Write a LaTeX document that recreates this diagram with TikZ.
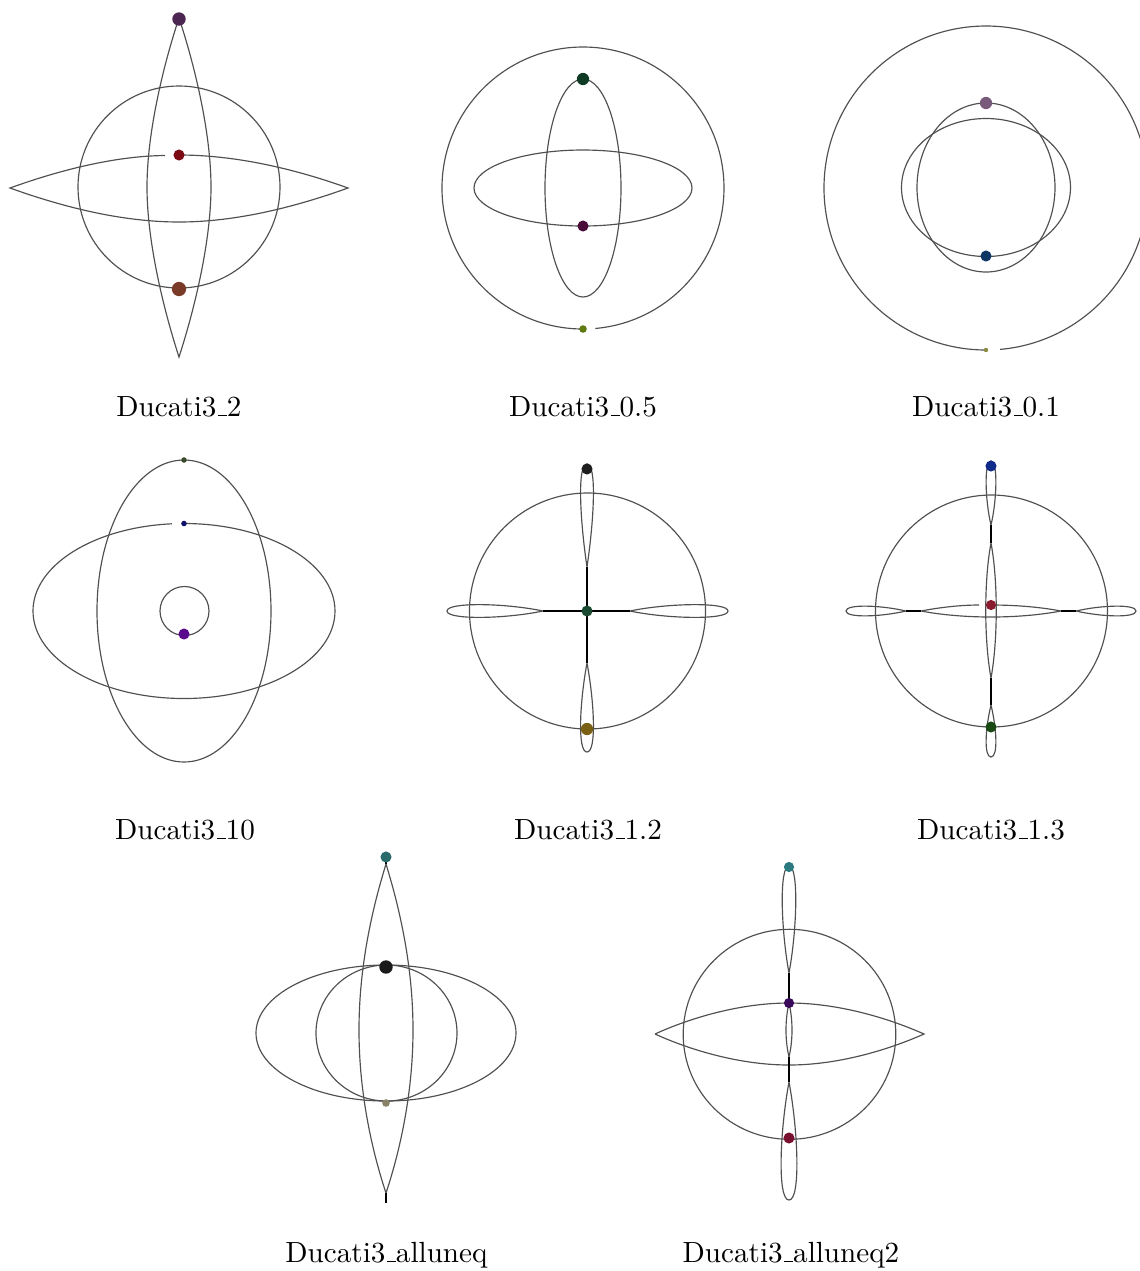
\documentclass[tikz,border=0pt]{standalone}
\usepackage{tikz}
\newcommand{\usc}{\leavevmode\kern.06em\vbox{\hrule width.3em}}
\definecolor{orbitgray}{HTML}{505050}
\definecolor{dotAa}{HTML}{4B2650}
\definecolor{dotAb}{HTML}{7B0A14}
\definecolor{dotAc}{HTML}{7A3A28}
\definecolor{dotBa}{HTML}{0F3A24}
\definecolor{dotBb}{HTML}{4A0D3A}
\definecolor{dotBc}{HTML}{5F7A12}
\definecolor{dotCa}{HTML}{7A5A7A}
\definecolor{dotCb}{HTML}{0C3566}
\definecolor{dotCc}{HTML}{8A8A40}
\definecolor{dotDa}{HTML}{3A4A2A}
\definecolor{dotDb}{HTML}{10106A}
\definecolor{dotDc}{HTML}{5A0A8A}
\definecolor{dotEa}{HTML}{1E1E1E}
\definecolor{dotEb}{HTML}{1A4A30}
\definecolor{dotEc}{HTML}{7A6012}
\definecolor{dotFa}{HTML}{102A8A}
\definecolor{dotFb}{HTML}{8A1A30}
\definecolor{dotFc}{HTML}{1A4A14}
\definecolor{dotGa}{HTML}{2A6A6A}
\definecolor{dotGb}{HTML}{1A1A1A}
\definecolor{dotGc}{HTML}{8A8266}
\definecolor{dotHa}{HTML}{2A7A80}
\definecolor{dotHb}{HTML}{3A0A5A}
\definecolor{dotHc}{HTML}{7A1030}

\begin{document}
\begin{tikzpicture}[
  x=0.343pt, y=-0.343pt,
  orbit/.style={draw=orbitgray, line width=0.4pt},
  neck/.style={draw=black, line width=0.5pt},
  dot/.style={circle, inner sep=0pt, minimum size=3.8pt},
  bigdot/.style={dot, minimum size=4.6pt},
  smalldot/.style={dot, minimum size=2.6pt},
  tinydot/.style={dot, minimum size=1.5pt},
  caption/.style={anchor=base, inner sep=0pt}
]
\useasboundingbox (0,0) rectangle (1140,1271);

% Ducati3_2
\draw[orbit] (179,187) circle [radius=101];
\draw[orbit] (179,18) .. controls (165,60) and (147,130) .. (147,187) .. controls (147,244) and (165,314) .. (179,357)
  .. controls (193,314) and (211,244) .. (211,187) .. controls (211,130) and (193,60) .. (179,18);
\draw[orbit] (179,155) .. controls (238,155) and (298,170) .. (348,188) .. controls (298,206) and (238,222) .. (179,222)
  .. controls (120,222) and (60,206) .. (10,188) .. controls (60,170) and (115,156) .. (165,155.5);
\node[bigdot, fill=dotAa] (a1) at (179,19) {};
\node[dot, fill=dotAb] (a2) at (179,155) {};
\node[bigdot, minimum size=4.9pt, fill=dotAc] (a3) at (179,289) {};
\node[caption] (capA) at (179,416) {Ducati3\usc 2};

% Ducati3_0.5
\draw[orbit] (583,329) arc [start angle=90, end angle=445, radius=141];
\draw[orbit] (583,188) ellipse [x radius=38, y radius=109];
\draw[orbit] (583,188) ellipse [x radius=109, y radius=38];
\node[dot, minimum size=4.2pt, fill=dotBa] (b1) at (583,79) {};
\node[dot, fill=dotBb] (b2) at (583,226) {};
\node[smalldot, fill=dotBc] (b3) at (583,329) {};
\node[caption] (capB) at (583,416) {Ducati3\usc 0.5};

% Ducati3_0.1
\draw[orbit] (986,350) arc [start angle=90, end angle=445, radius=162];
\draw[orbit] (986,187.5) ellipse [x radius=69, y radius=84.5];
\draw[orbit] (986,187.5) ellipse [x radius=84.5, y radius=69];
\node[dot, minimum size=4.2pt, fill=dotCa] (c1) at (986,103) {};
\node[dot, fill=dotCb] (c2) at (986,256) {};
\node[tinydot, fill=dotCc] (c3) at (986,350) {};
\node[caption] (capC) at (986,416) {Ducati3\usc 0.1};

% Ducati3_10
\draw[orbit] (184,611) ellipse [x radius=87, y radius=151];
\draw[orbit] (184,523.5) arc [start angle=270, end angle=625.4, x radius=151, y radius=87.5];
\draw[orbit] (184.5,611) circle [radius=24.5];
\node[tinydot, minimum size=1.9pt, fill=dotDa] (d1) at (184,460) {};
\node[tinydot, minimum size=1.9pt, fill=dotDb] (d2) at (184,523.5) {};
\node[dot, fill=dotDc] (d3) at (184,634) {};
\node[caption] (capD) at (185,839) {Ducati3\usc 10};

% Ducati3_1.2
\draw[orbit] (587.5,611) circle [radius=118];
\draw[orbit] (587,567) .. controls (580,520) and (577,464) .. (587,464) .. controls (597,464) and (594,520) .. (587,567);
\draw[orbit] (587,663) .. controls (580,700) and (577,752) .. (587,752) .. controls (597,752) and (594,700) .. (587,663);
\draw[orbit] (543,611) .. controls (505,603) and (447,602) .. (447,611) .. controls (447,620) and (505,619) .. (543,611);
\draw[orbit] (630,611) .. controls (668,603) and (728,602) .. (728,611) .. controls (728,620) and (668,619) .. (630,611);
\draw[neck] (587,567) -- (587,663);
\draw[neck] (543,611) -- (630,611);
\node[dot, fill=dotEa] (e1) at (587,469) {};
\node[dot, fill=dotEb] (e2) at (587,611) {};
\node[dot, minimum size=4.2pt, fill=dotEc] (e3) at (587,729) {};
\node[caption] (capE) at (588,839) {Ducati3\usc 1.2};

% Ducati3_1.3
\draw[orbit] (991.5,611) circle [radius=116];
\draw[orbit] (991,525) .. controls (985,500) and (984,461) .. (991,461) .. controls (998,461) and (997,500) .. (991,525);
\draw[orbit] (991,705) .. controls (985,730) and (984,757) .. (991,757) .. controls (998,757) and (997,730) .. (991,705);
\draw[orbit] (991,543) .. controls (984,580) and (984,640) .. (991,678) .. controls (998,640) and (998,580) .. (991,543);
\draw[orbit] (906,611) .. controls (880,605) and (846,604) .. (846,611) .. controls (846,618) and (880,617) .. (906,611);
\draw[orbit] (1076,611) .. controls (1102,605) and (1136,604) .. (1136,611) .. controls (1136,618) and (1102,617) .. (1076,611);
\draw[orbit] (991,605) .. controls (1015,605) and (1040,607) .. (1061,611) .. controls (1040,615) and (1015,617) .. (991,617)
  .. controls (967,617) and (942,615) .. (921,611) .. controls (942,607) and (962,605) .. (979,605);
\draw[neck] (991,525) -- (991,543);
\draw[neck] (991,678) -- (991,705);
\draw[neck] (906,611) -- (921,611);
\draw[neck] (1061,611) -- (1076,611);
\node[dot, fill=dotFa] (f1) at (991,466) {};
\node[dot, minimum size=3.5pt, fill=dotFb] (f2) at (991,605) {};
\node[dot, fill=dotFc] (f3) at (991,727) {};
\node[caption] (capF) at (991,839) {Ducati3\usc 1.3};

% Ducati3_alluneq
\draw[orbit] (386,1033) ellipse [x radius=130, y radius=68];
\draw[orbit] (386.5,1033) ellipse [x radius=70.5, y radius=68];
\draw[orbit] (386,864) .. controls (375,900) and (359,960) .. (359,1030) .. controls (359,1100) and (375,1160) .. (386,1193)
  .. controls (397,1160) and (413,1100) .. (413,1030) .. controls (413,960) and (397,900) .. (386,864);
\draw[neck] (386,1193) -- (386,1203);
\draw[neck] (386,857) -- (386,864);
\node[dot, fill=dotGa] (g1) at (386,857) {};
\node[bigdot, fill=dotGb] (g2) at (386,967) {};
\node[smalldot, fill=dotGc] (g3) at (386,1103) {};
\node[caption] (capG) at (386.5,1262) {Ducati3\usc alluneq};

% Ducati3_alluneq2
\draw[orbit] (789.5,1034.3) ellipse [x radius=106.3, y radius=105];
\draw[orbit] (655,1034) .. controls (690,1018) and (740,1003) .. (789,1003) .. controls (838,1003) and (888,1018) .. (924,1034)
  .. controls (888,1050) and (838,1065) .. (789,1065) .. controls (740,1065) and (690,1050) .. (655,1034);
\draw[orbit] (789,973) .. controls (781,930) and (779,866) .. (789,866) .. controls (799,866) and (797,930) .. (789,973);
\draw[orbit] (789,1003) .. controls (785,1020) and (785,1040) .. (789,1057) .. controls (793,1040) and (793,1020) .. (789,1003);
\draw[orbit] (789,1082) .. controls (780,1130) and (777,1200) .. (789,1200) .. controls (801,1200) and (798,1130) .. (789,1082);
\draw[neck] (789,973) -- (789,1003);
\draw[neck] (789,1057) -- (789,1082);
\node[dot, minimum size=3.5pt, fill=dotHa] (h1) at (789,867) {};
\node[dot, minimum size=3.5pt, fill=dotHb] (h2) at (789,1003) {};
\node[dot, fill=dotHc] (h3) at (789,1138) {};
\node[caption] (capH) at (791,1262) {Ducati3\usc alluneq2};
\end{tikzpicture}
\end{document}
